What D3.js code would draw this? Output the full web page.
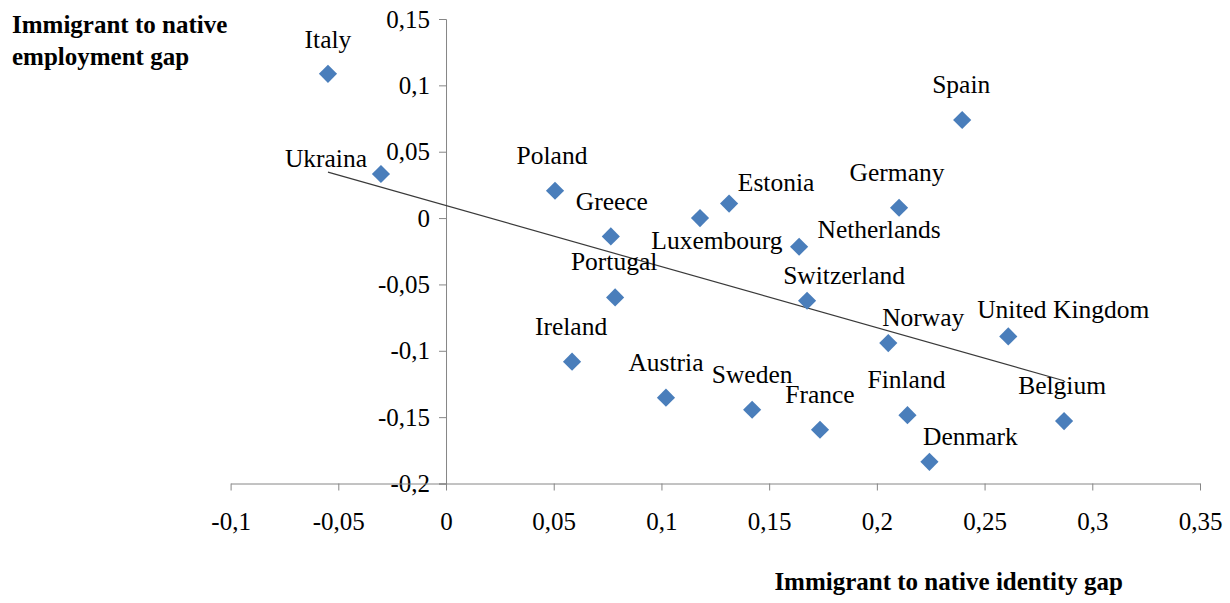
<!DOCTYPE html>
<html>
<head>
<meta charset="utf-8">
<script src="https://cdn.jsdelivr.net/npm/d3@7"></script>
<style>
  body { margin: 0; background: #fff; }
</style>
</head>
<body>
<div class="chart"></div>
<script>

const w = 1230;
const h = 603;
const serif = "'Liberation Serif', 'Times New Roman', Times, serif";

// data
const countries = ["Italy", "Ukraina", "Poland", "Greece", "Estonia", "Luxembourg", "Netherlands",
                   "Germany", "Spain", "Portugal", "Switzerland", "Norway", "United Kingdom",
                   "Ireland", "Austria", "Sweden", "France", "Finland", "Belgium", "Denmark"];
const identityGap = [-0.0548, -0.0302, 0.0506, 0.0765, 0.1314, 0.1179, 0.1639,
                     0.2103, 0.2396, 0.0785, 0.1676, 0.2053, 0.2610,
                     0.0585, 0.1021, 0.1421, 0.1736, 0.2142, 0.2869, 0.2244];
const employmentGap = [0.1087, 0.0332, 0.0206, -0.0138, 0.0109, 0.0000, -0.0216,
                       0.0078, 0.0739, -0.0598, -0.0623, -0.0942, -0.0892,
                       -0.1082, -0.1353, -0.1444, -0.1595, -0.1485, -0.1530, -0.1837];

const xTicks = [-0.1, -0.05, 0, 0.05, 0.1, 0.15, 0.2, 0.25, 0.3, 0.35];
const xTickLabels = ["-0,1", "-0,05", "0", "0,05", "0,1", "0,15", "0,2", "0,25", "0,3", "0,35"];
const yTicks = [0.15, 0.1, 0.05, 0, -0.05, -0.1, -0.15, -0.2];
const yTickLabels = ["0,15", "0,1", "0,05", "0", "-0,05", "-0,1", "-0,15", "-0,2"];

// linear trend line
const trendIntercept = 0.0094;
const trendSlope = -0.46;

// label placement (pixels from the marker: centre x, baseline y)
const labelDx = [0, -55, -3, 1, 47, 17, 80, -2, -1, -1, 37, 35, 55, -1, 0, 0, 0, -1, -2, 41];
const labelDy = [-26, -7, -27, -26, -13, 31, -9, -27, -27, -27, -17, -17, -18, -27, -27, -27, -27, -27, -27, -17];

const svg = d3.select(".chart")
              .append("svg")
              .attr("width", w)
              .attr("height", h);

const xScale = d3.scaleLinear()
                 .domain([-0.1, 0.35])
                 .range([230.6, 1200]);

const yScale = d3.scaleLinear()
                 .domain([-0.2, 0.15])
                 .range([483.5, 19]);

const axisColor = "#868686";

// y axis sits at x = 0
const yAxis = d3.axisLeft(yScale)
                .tickValues(yTicks)
                .tickFormat((d, i) => yTickLabels[i])
                .tickSize(7)
                .tickPadding(9);

const gy = svg.append("g")
   .attr("transform", "translate(" + xScale(0) + ",0)")
   .call(yAxis)
   .attr("font-family", serif)
   .attr("font-size", 25);
gy.select(".domain").attr("stroke", axisColor);
gy.selectAll(".tick line").attr("stroke", axisColor);
gy.selectAll(".tick text").attr("fill", "#000");

// x axis sits at y = -0.2
const xAxis = d3.axisBottom(xScale)
                .tickValues(xTicks)
                .tickFormat((d, i) => xTickLabels[i])
                .tickSizeInner(7)
                .tickSizeOuter(0)
                .tickPadding(22);

const gx = svg.append("g")
   .attr("transform", "translate(0," + yScale(-0.2) + ")")
   .call(xAxis)
   .attr("font-family", serif)
   .attr("font-size", 25);
gx.select(".domain").attr("stroke", axisColor);
gx.selectAll(".tick line").attr("stroke", axisColor);
gx.selectAll(".tick text").attr("fill", "#000");

// trend line
const x0 = d3.min(identityGap);
const x1 = d3.max(identityGap);
svg.append("line")
   .attr("x1", xScale(x0))
   .attr("y1", yScale(trendIntercept + trendSlope * x0))
   .attr("x2", xScale(x1))
   .attr("y2", yScale(trendIntercept + trendSlope * x1))
   .attr("stroke", "#3a3a3a")
   .attr("stroke-width", 1.2);

// data labels
svg.selectAll("text.label")
   .data(countries)
   .enter()
   .append("text")
   .attr("class", "label")
   .attr("x", (d, i) => xScale(identityGap[i]) + labelDx[i])
   .attr("y", (d, i) => yScale(employmentGap[i]) + labelDy[i])
   .attr("text-anchor", "middle")
   .attr("font-family", serif)
   .attr("font-size", 25.5)
   .text(d => d);

// markers
const diamond = d3.symbol().type(d3.symbolSquare).size(165);
svg.selectAll("path.point")
   .data(countries)
   .enter()
   .append("path")
   .attr("class", "point")
   .attr("d", diamond)
   .attr("transform", (d, i) => "translate(" + xScale(identityGap[i]) + "," + yScale(employmentGap[i]) + ") rotate(45)")
   .attr("fill", "#4a7ebb");

// axis titles
const titles = svg.append("g")
   .attr("font-family", serif)
   .attr("font-size", 25)
   .attr("font-weight", "bold");
titles.append("text")
   .attr("x", 12)
   .attr("y", 33)
   .text("Immigrant to native");
titles.append("text")
   .attr("x", 12)
   .attr("y", 65)
   .text("employment gap");
titles.append("text")
   .attr("x", 1123)
   .attr("y", 590)
   .attr("text-anchor", "end")
   .text("Immigrant to native identity gap");

</script>
</body>
</html>
